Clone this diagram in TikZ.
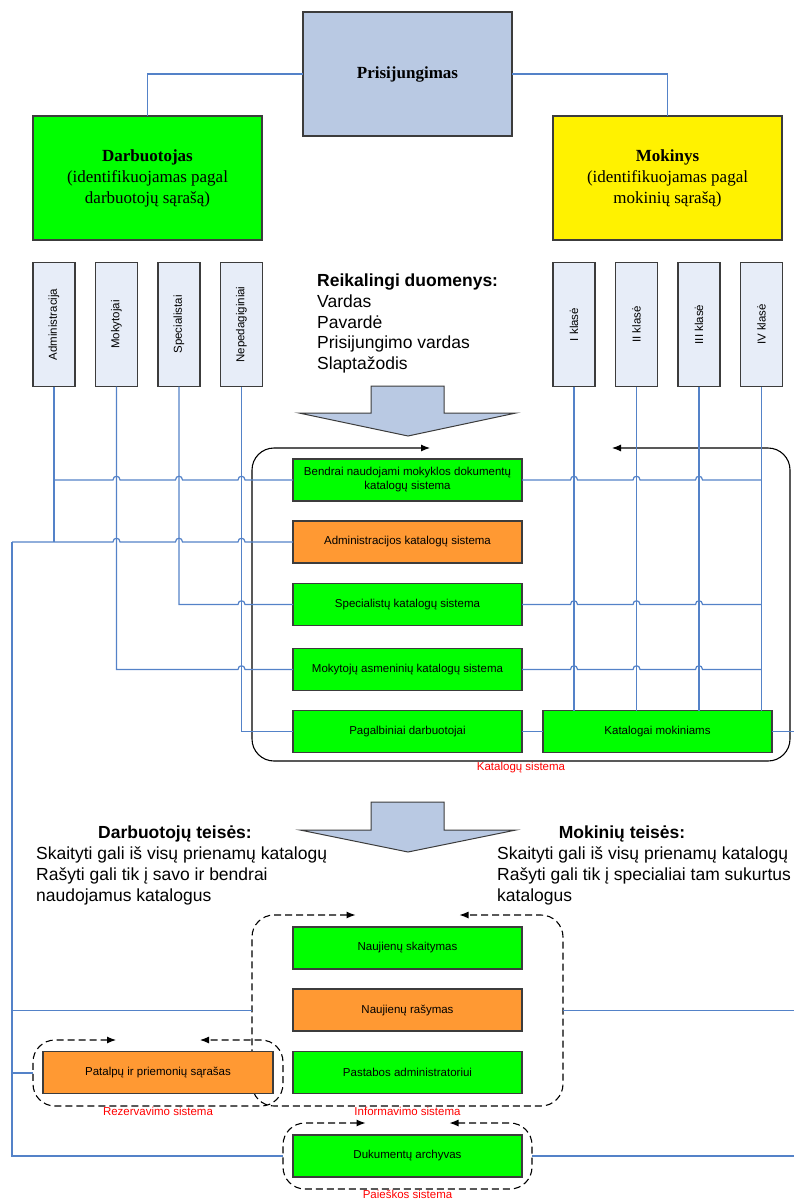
\documentclass[tikz,border=0pt]{standalone}
\usepackage{fontspec}
\setmainfont{Liberation Sans}
\newfontfamily\serifbox{Liberation Serif}
\usetikzlibrary{arrows.meta,positioning,calc}
\definecolor{loginblue}{RGB}{185,201,227}
\definecolor{rolefill}{RGB}{231,237,248}
\definecolor{sysgreen}{RGB}{0,255,0}
\definecolor{sysorange}{RGB}{255,153,51}
\definecolor{wireblue}{RGB}{84,130,200}
\definecolor{edgegray}{RGB}{60,60,60}
\newcommand\linejump[2]{-- ($(#1 |- #2)+(-3.5,0)$) .. controls +(0,-5) and +(0,-5) .. ($(#1 |- #2)+(3.5,0)$)}
\tikzset{
    wire/.style      = {draw=wireblue, line width=1.2pt},
    basebox/.style   = {draw=edgegray, line width=1.2pt, inner sep=0pt, outer sep=0pt, align=center},
    headbox/.style   = {basebox, minimum width=229pt, minimum height=124pt,
            font=\serifbox\fontsize{17}{21}\selectfont},
    rolebox/.style   = {basebox, fill=rolefill, minimum width=42pt, minimum height=124pt,
            font=\fontsize{11.5}{13}\selectfont},
    sysbox/.style    = {basebox, fill=sysgreen, minimum width=229pt, minimum height=42pt,
            font=\fontsize{11.5}{14}\selectfont},
    orangebox/.style = {sysbox, fill=sysorange},
    zone/.style      = {inner sep=0pt, outer sep=0pt},
    ring/.style      = {{Latex[length=9pt,width=7pt]}-{Latex[length=9pt,width=7pt]},
            line width=1.1pt, rounded corners=22pt},
    dashring/.style  = {ring, dash pattern=on 7pt off 4pt},
    caption/.style   = {text=red, inner sep=0pt, font=\fontsize{11.5}{13}\selectfont},
    bigarrow/.style  = {draw=edgegray, line width=1pt, fill=loginblue},
    infotext/.style  = {align=left, inner sep=0pt, font=\fontsize{17.5}{20.7}\selectfont},
}

\begin{document}
\begin{tikzpicture}[x=1pt, y=-1pt]
    \useasboundingbox (0,0) rectangle (793,1201);
    % Login and users
    \node[headbox, fill=loginblue, minimum width=209pt] (login) at (407.5,74) {\textbf{Prisijungimas}};
    \node[headbox, fill=sysgreen] (emp) at (147.5,178) {\textbf{Darbuotojas}\\(identifikuojamas pagal\\darbuotojų sąrašą)};
    \node[headbox, fill=yellow] (stud) at (667.5,178) {\textbf{Mokinys}\\(identifikuojamas pagal\\mokinių sąrašą)};
    % Groups
    \node[rolebox] (adm) at (54,324.5) {\rotatebox{90}{Administracija}};
    \node[rolebox, right=20.5pt of adm] (mok) {\rotatebox{90}{Mokytojai}};
    \node[rolebox, right=20.5pt of mok] (spec) {\rotatebox{90}{Specialistai}};
    \node[rolebox, right=20.5pt of spec] (nep) {\rotatebox{90}{Nepedagiginiai}};
    \node[rolebox] (k1) at (574,324.5) {\rotatebox{90}{I klasė}};
    \node[rolebox, right=20.5pt of k1] (k2) {\rotatebox{90}{II klasė}};
    \node[rolebox, right=20.5pt of k2] (k3) {\rotatebox{90}{III klasė}};
    \node[rolebox, right=20.5pt of k3] (k4) {\rotatebox{90}{IV klasė}};
    \node[infotext, anchor=north west] (need) at (317,274) {\textbf{Reikalingi duomenys:}\\Vardas\\Pavardė\\Prisijungimo vardas\\Slaptažodis};
    \draw[bigarrow] (371,386) -- (444,386) -- (444,413) -- (516,413) -- (408,436) -- (299,413) -- (371,413) -- cycle;
    % Katalogu sistema
    \node[zone, minimum width=538pt, minimum height=313pt] (catsys) at (521,604.5) {};
    \draw[ring] ($(catsys.north)+(-91,0)$) -- (catsys.north west) -- (catsys.south west) -- (catsys.south east) -- (catsys.north east) -- ($(catsys.north)+(91,0)$);
    \node[caption, below=1pt of catsys] (catsysL) {Katalogų sistema};
    \node[sysbox] (bendr) at (407.5,480) {Bendrai naudojami mokyklos dokumentų\\katalogų sistema};
    \node[orangebox] (admk) at (407.5,542) {Administracijos katalogų sistema};
    \node[sysbox] (speck) at (407.5,604.5) {Specialistų katalogų sistema};
    \node[sysbox] (mokk) at (407.5,669.5) {Mokytojų asmeninių katalogų sistema};
    \node[sysbox] (pagalb) at (407.5,731.5) {Pagalbiniai darbuotojai};
    \node[sysbox] (katm) at (657.5,731.5) {Katalogai mokiniams};
    % Rights
    \draw[bigarrow] (371,802) -- (444,802) -- (444,830) -- (516,830) -- (408,852) -- (300,830) -- (371,830) -- cycle;
    \node[infotext, anchor=base] (empRT) at (175,838) {\textbf{Darbuotojų teisės:}};
    \node[infotext, anchor=north west] (empR) at (36,847) {Skaityti gali iš visų prienamų katalogų\\Rašyti gali tik į savo ir bendrai\\naudojamus katalogus};
    \node[infotext, anchor=base] (studRT) at (622,838) {\textbf{Mokinių teisės:}};
    \node[infotext, anchor=north west] (studR) at (497,847) {Skaityti gali iš visų prienamų katalogų\\Rašyti gali tik į specialiai tam sukurtus\\katalogus};
    % Lower systems
    \node[zone, minimum width=311pt, minimum height=191pt] (info) at (407.5,1010.5) {};
    \node[zone, minimum width=250pt, minimum height=66pt] (rez) at (158,1073) {};
    \node[zone, minimum width=249pt, minimum height=66pt] (pask) at (407.5,1156) {};
    \draw[dashring] ($(info.north)+(-52,0)$) -- (info.north west) -- (info.south west) -- (info.south east) -- (info.north east) -- ($(info.north)+(52,0)$);
    \draw[dashring] ($(rez.north)+(-42,0)$) -- (rez.north west) -- (rez.south west) -- (rez.south east) -- (rez.north east) -- ($(rez.north)+(42,0)$);
    \draw[dashring] ($(pask.north)+(-42,0)$) -- (pask.north west) -- (pask.south west) -- (pask.south east) -- (pask.north east) -- ($(pask.north)+(42,0)$);
    \node[caption, below=1pt of info] (infoL) {Informavimo sistema};
    \node[caption, below=1pt of rez] (rezL) {Rezervavimo sistema};
    \node[caption, below=1pt of pask] (paskL) {Paieškos sistema};
    \node[sysbox] (nsk) at (407.5,948) {Naujienų skaitymas};
    \node[orangebox] (nras) at (407.5,1010) {Naujienų rašymas};
    \node[sysbox] (past) at (407.5,1072.5) {Pastabos administratoriui};
    \node[orangebox, minimum width=230pt] (patal) at (158,1072.5) {Patalpų ir priemonių sąrašas};
    \node[sysbox] (arch) at (407.5,1156) {Dukumentų archyvas};
    % Wires
    \coordinate (bus) at (12,542);
    \coordinate (rim) at (800,0);
    \draw[wire] (login.west) -| (emp.north);
    \draw[wire] (login.east) -| (stud.north);
    \draw[wire] (adm.south) -- (adm.south |- admk.west);
    \draw[wire] (adm.south |- bendr.west) \linejump{mok.south}{bendr.west} \linejump{spec.south}{bendr.west} \linejump{nep.south}{bendr.west} -- (bendr.west);
    \draw[wire] (bus) \linejump{mok.south}{admk.west} \linejump{spec.south}{admk.west} \linejump{nep.south}{admk.west} -- (admk.west);
    \draw[wire] (spec.south) -- (spec.south |- speck.west) \linejump{nep.south}{speck.west} -- (speck.west);
    \draw[wire] (mok.south) -- (mok.south |- mokk.west) \linejump{nep.south}{mokk.west} -- (mokk.west);
    \draw[wire] (nep.south) |- (pagalb.west);
    \draw[wire] (pagalb) -- (katm);
    \foreach \k in {k1,k2,k3,k4}
        \draw[wire] (\k.south) -- (\k.south |- katm.north);
    \foreach \s in {bendr,speck,mokk}
        \draw[wire] (\s.east) \linejump{k1.south}{\s.east} \linejump{k2.south}{\s.east} \linejump{k3.south}{\s.east} -- (k4.south |- \s.east);
    \draw[wire] (katm.east) -- (katm.east -| rim);
    \draw[wire] (bus) |- (pask.west);
    \draw[wire] (bus |- info.west) -- (info.west);
    \draw[wire] (bus |- rez.west) -- (rez.west);
    \draw[wire] (info.east) -- (info.east -| rim);
    \draw[wire] (pask.east) -- (pask.east -| rim);
\end{tikzpicture}
\end{document}
